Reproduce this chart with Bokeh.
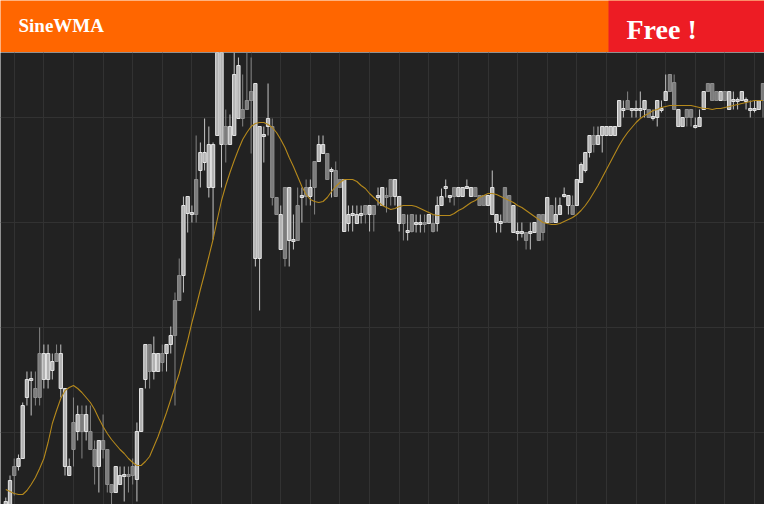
import numpy as np
from bokeh.plotting import figure
from bokeh.layouts import column
from bokeh.models import Range1d, FixedTicker, Grid, ColumnDataSource
from bokeh.core.properties import value
from bokeh.embed import file_html
from bokeh.resources import INLINE

# ---------------- data ----------------
title_text = "SineWMA"
badge_text = "Free !"

open_ = [
    78, 85, 126, 126, 134, 195, 212, 204, 239, 213,
    213, 222, 239, 204, 126, 117, 170, 161, 178, 161,
    161, 143, 126, 152, 143, 108, 100, 108, 116, 118,
    126, 113, 161, 213, 248, 221, 221, 239, 239, 248,
    292, 317, 317, 379, 378, 413, 422, 430, 405, 405,
    457, 448, 466, 448, 457, 474, 483, 492, 501, 334,
    334, 456, 466, 466, 395, 343, 405, 352, 351, 387,
    395, 405, 396, 431, 431, 439, 439, 421, 422, 413,
    361, 369, 377, 369, 377, 387, 378, 387, 395, 387,
    397, 413, 396, 369, 378, 360, 378, 368, 368, 370,
    369, 369, 369, 387, 404, 395, 405, 396, 396, 404,
    396, 405, 397, 397, 387, 378, 370, 369, 405, 397,
    360, 359, 359, 360, 359, 360, 378, 378, 370, 387,
    370, 378, 396, 387, 387, 387, 410, 422, 440, 457,
    448, 457, 457, 457, 457, 466, 482, 492, 482, 482,
    482, 483, 483, 474, 475, 482, 492, 518, 510, 466,
    466, 483, 483, 465, 466, 483, 509, 509, 501, 492,
    501, 483, 491, 491, 492, 491, 482, 482, 483, 509,
]
close = [
    91, 112, 117, 134, 187, 213, 214, 195, 195, 239,
    239, 231, 231, 239, 204, 126, 143, 178, 161, 178,
    143, 126, 152, 143, 108, 100, 126, 117, 118, 116,
    117, 161, 204, 248, 221, 239, 239, 230, 248, 257,
    257, 292, 387, 396, 380, 378, 440, 440, 448, 448,
    545, 545, 448, 466, 518, 527, 474, 483, 492, 509,
    466, 458, 474, 395, 378, 378, 334, 405, 353, 352,
    397, 396, 405, 405, 448, 448, 413, 423, 396, 405,
    413, 378, 379, 378, 379, 378, 387, 378, 397, 405,
    395, 396, 413, 396, 369, 362, 361, 370, 370, 368,
    378, 361, 387, 396, 406, 397, 396, 405, 405, 406,
    405, 396, 387, 387, 397, 405, 378, 371, 370, 370,
    387, 361, 361, 352, 361, 370, 352, 360, 395, 370,
    378, 387, 398, 397, 378, 413, 428, 440, 457, 448,
    457, 466, 466, 466, 466, 492, 484, 483, 484, 484,
    484, 492, 475, 476, 492, 484, 501, 501, 483, 483,
    475, 475, 475, 467, 475, 501, 501, 492, 492, 501,
    492, 501, 493, 493, 501, 493, 484, 484, 492, 492,
]
high = [
    95, 117, 134, 138, 190, 221, 221, 221, 265, 248,
    248, 239, 248, 248, 204, 134, 195, 187, 187, 187,
    187, 152, 152, 178, 143, 108, 126, 126, 126, 126,
    134, 170, 204, 248, 248, 256, 239, 248, 248, 266,
    300, 334, 396, 396, 387, 457, 450, 474, 466, 450,
    550, 550, 483, 478, 540, 535, 518, 540, 535, 509,
    466, 466, 509, 474, 395, 387, 405, 405, 378, 405,
    405, 413, 413, 431, 457, 457, 439, 425, 431, 413,
    413, 387, 387, 387, 387, 387, 387, 387, 405, 405,
    405, 413, 413, 396, 378, 378, 378, 378, 378, 378,
    378, 378, 396, 404, 413, 397, 405, 405, 405, 413,
    405, 405, 397, 397, 397, 422, 378, 378, 405, 397,
    387, 370, 370, 360, 370, 370, 378, 378, 395, 387,
    395, 395, 405, 397, 397, 413, 430, 440, 457, 466,
    466, 466, 466, 466, 466, 492, 492, 501, 484, 492,
    501, 492, 483, 483, 492, 492, 518, 518, 518, 483,
    475, 483, 483, 475, 483, 501, 509, 509, 501, 501,
    501, 501, 501, 495, 501, 495, 492, 492, 492, 509,
]
low = [
    75, 75, 97, 122, 134, 187, 177, 187, 187, 204,
    204, 213, 231, 195, 117, 117, 126, 152, 134, 152,
    143, 108, 100, 134, 100, 83, 100, 108, 91, 100,
    108, 91, 161, 204, 204, 213, 221, 221, 221, 239,
    187, 292, 300, 360, 370, 370, 405, 422, 395, 353,
    457, 405, 430, 448, 457, 474, 466, 483, 439, 326,
    282, 430, 457, 387, 378, 343, 326, 326, 343, 352,
    370, 387, 387, 378, 431, 439, 413, 395, 396, 405,
    361, 361, 361, 369, 369, 369, 361, 361, 387, 387,
    380, 387, 387, 361, 352, 352, 360, 360, 360, 360,
    369, 360, 361, 387, 395, 390, 387, 396, 396, 404,
    396, 396, 387, 387, 387, 378, 360, 360, 370, 370,
    360, 352, 355, 343, 343, 360, 352, 352, 370, 370,
    370, 378, 395, 378, 378, 387, 410, 420, 435, 440,
    448, 440, 457, 457, 457, 466, 475, 483, 475, 475,
    475, 475, 475, 472, 466, 480, 492, 501, 483, 466,
    466, 466, 466, 464, 466, 483, 501, 492, 492, 492,
    492, 483, 483, 483, 492, 483, 475, 480, 483, 475,
]
sine_wma = [
    103, 101, 99, 98, 98, 102, 108, 115, 124, 134,
    150, 169, 182, 194, 202, 205, 207, 204, 200, 195,
    190, 183, 174, 166, 159, 153, 148, 143, 139, 134,
    130, 127, 127, 131, 136, 146, 156, 168, 180, 193,
    206, 219, 236, 252, 270, 286, 303, 319, 336, 353,
    373, 392, 407, 420, 432, 443, 453, 460, 466, 469,
    470, 470, 468, 465, 460, 453, 445, 435, 426, 416,
    406, 398, 393, 391, 390, 391, 395, 401, 406, 410,
    413, 413, 413, 411, 407, 404, 399, 395, 391, 387,
    385, 383, 384, 386, 387, 387, 387, 386, 384, 382,
    380, 378, 377, 377, 377, 377, 379, 382, 384, 387,
    390, 392, 395, 397, 399, 399, 398, 396, 394, 392,
    390, 387, 385, 382, 379, 376, 373, 370, 369, 368,
    368, 369, 371, 373, 375, 378, 382, 387, 393, 400,
    407, 415, 423, 431, 439, 447, 454, 460, 465, 470,
    474, 477, 479, 482, 483, 485, 486, 487, 487, 487,
    487, 487, 487, 486, 485, 484, 484, 483, 484, 484,
    485, 486, 487, 488, 489, 490, 491, 492, 492, 492,
]
price_grid = [160, 265, 370, 475]
bars_per_gridline = 7
first_gridline_bar = 2

# ---------------- styling ----------------
BG = "#222222"
GRID = "#323232"
UP_FILL, UP_EDGE, UP_WICK = "#b2b2b2", "#e4e4e4", "#c4c4c4"
DN_FILL, DN_EDGE, DN_WICK = "#7c7c7c", "#8e8e8e", "#858585"
LINE = "#b5891c"
ORANGE = "#FF6600"
RED = "#ED1C24"

W = 764
HEAD_H = 52
CHART_H = 452

n = len(close)
x = np.arange(n)
o = np.array(open_, dtype=float)
c = np.array(close, dtype=float)
up = c >= o

src = ColumnDataSource(dict(
    x=x,
    high=high,
    low=low,
    top=np.maximum(o, c),
    bottom=np.minimum(o, c),
    fill=np.where(up, UP_FILL, DN_FILL),
    edge=np.where(up, UP_EDGE, DN_EDGE),
    wick=np.where(up, UP_WICK, DN_WICK),
))

# ---------------- header ----------------
h = figure(width=W, height=HEAD_H, output_backend="svg", toolbar_location=None, tools="",
           x_range=Range1d(0, W), y_range=Range1d(0, HEAD_H),
           x_axis_location=None, y_axis_location=None, min_border=0,
           outline_line_color=None, background_fill_color=ORANGE, border_fill_color=ORANGE)
h.xgrid.visible = False
h.ygrid.visible = False
h.quad(left=[608], right=[W], bottom=[0], top=[HEAD_H], fill_color=RED, line_color=None)
h.text(x=[18], y=[27], text=[title_text], text_font=value("Liberation Serif"),
       text_font_style="bold", text_font_size="19px", text_color="white",
       text_baseline="alphabetic", text_align="left")
h.text(x=[626], y=[23], text=[badge_text], text_font=value("Liberation Serif"),
       text_font_style="bold", text_font_size="28px", text_color="white",
       text_baseline="alphabetic", text_align="left")

# ---------------- chart ----------------
p = figure(width=W, height=CHART_H, output_backend="svg", toolbar_location=None, tools="",
           x_range=Range1d(-1.25, 179.36), y_range=Range1d(88, 540),
           x_axis_location=None, y_axis_location=None, min_border=0,
           outline_line_color=None, background_fill_color=BG, border_fill_color=BG)
p.xgrid.visible = False
p.ygrid.visible = False
xticks = list(range(first_gridline_bar, n, bars_per_gridline))
p.add_layout(Grid(dimension=0, ticker=FixedTicker(ticks=xticks),
                  grid_line_color=GRID, grid_line_width=1))
p.add_layout(Grid(dimension=1, ticker=FixedTicker(ticks=price_grid),
                  grid_line_color=GRID, grid_line_width=1))

p.segment(x0="x", y0="low", x1="x", y1="high", line_color="wick", line_width=1, source=src)
p.vbar(x="x", width=0.78, top="top", bottom="bottom", fill_color="fill",
       line_color="edge", line_width=1, source=src)
p.line(x=x, y=sine_wma, line_color=LINE, line_width=1.1)

layout = column(h, p, spacing=0)
open("out.html", "w").write(file_html(layout, INLINE))
